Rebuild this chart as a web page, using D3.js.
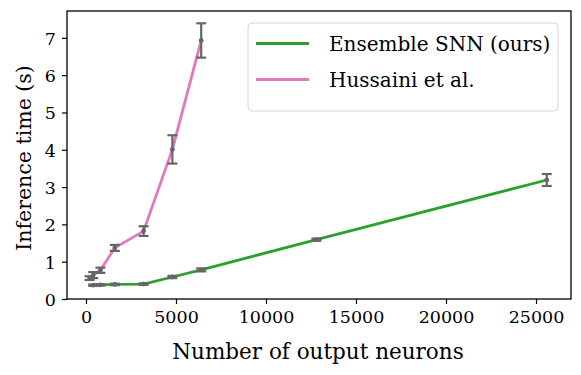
<!DOCTYPE html>
<html>
<head>
<meta charset="utf-8">
<script src="https://cdn.jsdelivr.net/npm/d3@7"></script>
<style>
  html, body { margin: 0; padding: 0; background: #fff; }
  svg text { font-family: "DejaVu Serif", "Liberation Serif", "Times New Roman", serif; fill: #000; }
</style>
</head>
<body>
<svg id="chart" width="581" height="375"></svg>
<script>
// ---- data ----
const ensembleX = [400, 800, 1600, 3200, 4800, 6400, 12800, 25600];
const ensembleY = [0.37, 0.38, 0.39, 0.40, 0.59, 0.78, 1.59, 3.19];
const ensembleErr = [0.02, 0.02, 0.02, 0.02, 0.03, 0.04, 0.03, 0.16];

const hussainiX = [200, 400, 800, 1600, 3200, 4800, 6400];
const hussainiY = [0.56, 0.64, 0.77, 1.37, 1.82, 4.01, 6.93];
const hussainiErr = [0.05, 0.08, 0.07, 0.08, 0.13, 0.38, 0.46];

const xTicks = [0, 5000, 10000, 15000, 20000, 25000];
const yTicks = [0, 1, 2, 3, 4, 5, 6, 7];
const seriesNames = ["Ensemble SNN (ours)", "Hussaini et al."];
const seriesColors = ["#2ca02c", "#e377c2"];

// ---- layout ----
const svg = d3.select("#chart");
const mLeft = 67, mRight = 571, mTop = 11, mBottom = 299;

const x = d3.scaleLinear().domain([-1055, 26944]).range([mLeft, mRight]);
const y = d3.scaleLinear().domain([0, 7.72]).range([mBottom, mTop]);

const series = [
  { name: seriesNames[0], color: seriesColors[0], xs: ensembleX, ys: ensembleY, es: ensembleErr },
  { name: seriesNames[1], color: seriesColors[1], xs: hussainiX, ys: hussainiY, es: hussainiErr }
];

const line = d3.line().x(d => x(d[0])).y(d => y(d[1]));

series.forEach(s => {
  const pts = s.xs.map((v, i) => [v, s.ys[i]]);
  svg.append("path").datum(pts)
    .attr("d", line)
    .attr("fill", "none")
    .attr("stroke", s.color)
    .attr("stroke-width", 2.8)
    .attr("stroke-linejoin", "round");
});

const errColor = "#666666";
series.forEach(s => {
  const g = svg.append("g");
  s.xs.forEach((v, i) => {
    const cx = x(v), y1 = y(s.ys[i] - s.es[i]), y2 = y(s.ys[i] + s.es[i]);
    g.append("line").attr("x1", cx).attr("x2", cx).attr("y1", y1).attr("y2", y2)
      .attr("stroke", errColor).attr("stroke-width", 2.2);
    [y1, y2].forEach(yy => {
      g.append("line").attr("x1", cx - 5).attr("x2", cx + 5).attr("y1", yy).attr("y2", yy)
        .attr("stroke", errColor).attr("stroke-width", 2.2);
    });
    g.append("circle").attr("cx", cx).attr("cy", y(s.ys[i])).attr("r", 2.4).attr("fill", errColor);
  });
});

const xAxis = d3.axisBottom(x).tickValues(xTicks).tickSize(5).tickPadding(7).tickFormat(d3.format("d"));
const yAxis = d3.axisLeft(y).tickValues(yTicks).tickSize(5).tickPadding(6).tickFormat(d3.format("d"));

const gx = svg.append("g").attr("transform", `translate(0,${mBottom})`).call(xAxis);
const gy = svg.append("g").attr("transform", `translate(${mLeft},0)`).call(yAxis);
[gx, gy].forEach(g => {
  g.select(".domain").remove();
  g.attr("font-family", null);
  g.selectAll(".tick line").attr("stroke", "#000").attr("stroke-width", 1.2);
  g.selectAll(".tick text").attr("font-size", 17.5).attr("fill", "#000");
});
gy.selectAll(".tick text").attr("dy", "0.36em");

svg.append("rect").attr("x", mLeft).attr("y", mTop).attr("width", mRight - mLeft).attr("height", mBottom - mTop)
  .attr("fill", "none").attr("stroke", "#000").attr("stroke-width", 1.3);

svg.append("text").attr("x", (mLeft + mRight) / 2 - 1).attr("y", 359)
  .attr("text-anchor", "middle").attr("font-size", 21.5).text("Number of output neurons");
svg.append("text").attr("transform", `translate(31,${(mTop + mBottom) / 2 + 3}) rotate(-90)`)
  .attr("text-anchor", "middle").attr("font-size", 20.5).text("Inference time (s)");

const lg = svg.append("g");
lg.append("rect").attr("x", 248).attr("y", 23).attr("width", 310).attr("height", 88)
  .attr("rx", 4).attr("fill", "#fff").attr("fill-opacity", 0.8).attr("stroke", "#d6d6d6").attr("stroke-width", 1);
series.forEach((s, i) => {
  const yy = 43.5 + i * 36;
  lg.append("line").attr("x1", 256).attr("x2", 309).attr("y1", yy).attr("y2", yy)
    .attr("stroke", s.color).attr("stroke-width", 2.8);
  lg.append("text").attr("x", 329).attr("y", yy).attr("dy", "0.35em")
    .attr("font-size", 20).text(s.name);
});
</script>
</body>
</html>
